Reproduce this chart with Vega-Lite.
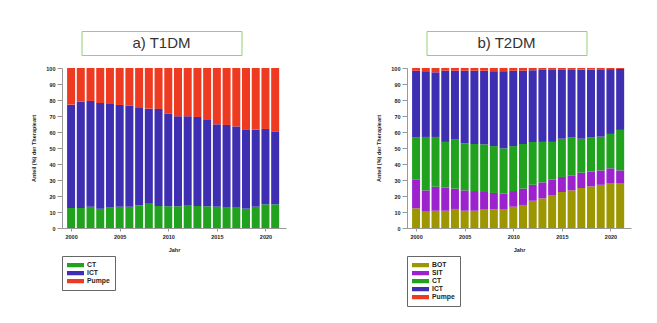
{
  "$schema": "https://vega.github.io/schema/vega-lite/v6.json",
  "background": "white",
  "padding": {"left": 31, "top": 30, "right": 5, "bottom": 5},
  "spacing": 90,
  "resolve": {"scale": {"color": "independent"}, "legend": {"color": "independent"}},
  "config": {
    "view": {"stroke": null},
    "font": "Liberation Sans",
    "axis": {
      "grid": false,
      "domainColor": "#999999",
      "tickColor": "#999999",
      "labelFont": "Liberation Sans",
      "labelFontSize": 5.5,
      "labelFontWeight": "bold",
      "labelColor": "#222222",
      "titleFont": "Liberation Sans",
      "titleFontSize": 5.5,
      "titleFontWeight": "bold",
      "titleColor": "#222222"
    },
    "axisX": {"titlePadding": 8, "labelPadding": 3, "tickSize": 3},
    "axisY": {"titlePadding": 9, "labelPadding": 2, "tickSize": 5},
    "legend": {
      "orient": "none",
      "legendX": 0,
      "legendY": 188,
      "title": null,
      "strokeColor": "#666666",
      "fillColor": "white",
      "padding": 5,
      "symbolType": "M-1,-0.25H1V0.25H-1Z",
      "symbolSize": 289,
      "symbolStrokeWidth": 0,
      "labelFont": "Liberation Sans",
      "labelFontSize": 6.8,
      "labelFontWeight": "bold",
      "labelColor": "#222222",
      "labelOffset": 3,
      "clipHeight": 8,
      "rowPadding": 0
    }
  },
  "hconcat": [
    {
      "spacing": 10,
      "center": true,
      "resolve": {"scale": {"color": "independent"}, "legend": {"color": "independent"}},
      "vconcat": [
        {
          "spacing": 10,
          "hconcat": [
            {
              "width": 160,
              "height": 24,
              "view": {"stroke": "#9ad06e", "strokeWidth": 1},
              "data": {"values": [{"label": "a) T1DM"}]},
              "mark": {"type": "text", "fontSize": 15, "font": "Liberation Sans", "color": "#333333"},
              "encoding": {"text": {"field": "label"}}
            },
            {
              "width": 14,
              "height": 24,
              "data": {"values": [{"label": ""}]},
              "mark": {"type": "text"},
              "encoding": {"text": {"field": "label"}}
            }
          ]
        },
        {
          "width": 224,
          "height": 160,
          "data": {"values": [
            {"Jahr":2000,"Therapie":"CT","Anteil":12.5},{"Jahr":2000,"Therapie":"ICT","Anteil":64.6},{"Jahr":2000,"Therapie":"Pumpe","Anteil":22.9},
            {"Jahr":2001,"Therapie":"CT","Anteil":12.5},{"Jahr":2001,"Therapie":"ICT","Anteil":66.5},{"Jahr":2001,"Therapie":"Pumpe","Anteil":21.0},
            {"Jahr":2002,"Therapie":"CT","Anteil":13.3},{"Jahr":2002,"Therapie":"ICT","Anteil":66.1},{"Jahr":2002,"Therapie":"Pumpe","Anteil":20.6},
            {"Jahr":2003,"Therapie":"CT","Anteil":12.1},{"Jahr":2003,"Therapie":"ICT","Anteil":66.0},{"Jahr":2003,"Therapie":"Pumpe","Anteil":21.9},
            {"Jahr":2004,"Therapie":"CT","Anteil":13.1},{"Jahr":2004,"Therapie":"ICT","Anteil":64.9},{"Jahr":2004,"Therapie":"Pumpe","Anteil":22.0},
            {"Jahr":2005,"Therapie":"CT","Anteil":13.3},{"Jahr":2005,"Therapie":"ICT","Anteil":63.6},{"Jahr":2005,"Therapie":"Pumpe","Anteil":23.1},
            {"Jahr":2006,"Therapie":"CT","Anteil":13.3},{"Jahr":2006,"Therapie":"ICT","Anteil":63.2},{"Jahr":2006,"Therapie":"Pumpe","Anteil":23.5},
            {"Jahr":2007,"Therapie":"CT","Anteil":14.2},{"Jahr":2007,"Therapie":"ICT","Anteil":60.8},{"Jahr":2007,"Therapie":"Pumpe","Anteil":25.0},
            {"Jahr":2008,"Therapie":"CT","Anteil":15.2},{"Jahr":2008,"Therapie":"ICT","Anteil":59.4},{"Jahr":2008,"Therapie":"Pumpe","Anteil":25.4},
            {"Jahr":2009,"Therapie":"CT","Anteil":13.8},{"Jahr":2009,"Therapie":"ICT","Anteil":60.6},{"Jahr":2009,"Therapie":"Pumpe","Anteil":25.6},
            {"Jahr":2010,"Therapie":"CT","Anteil":13.6},{"Jahr":2010,"Therapie":"ICT","Anteil":57.9},{"Jahr":2010,"Therapie":"Pumpe","Anteil":28.5},
            {"Jahr":2011,"Therapie":"CT","Anteil":13.6},{"Jahr":2011,"Therapie":"ICT","Anteil":56.2},{"Jahr":2011,"Therapie":"Pumpe","Anteil":30.2},
            {"Jahr":2012,"Therapie":"CT","Anteil":14.4},{"Jahr":2012,"Therapie":"ICT","Anteil":55.4},{"Jahr":2012,"Therapie":"Pumpe","Anteil":30.2},
            {"Jahr":2013,"Therapie":"CT","Anteil":13.8},{"Jahr":2013,"Therapie":"ICT","Anteil":55.6},{"Jahr":2013,"Therapie":"Pumpe","Anteil":30.6},
            {"Jahr":2014,"Therapie":"CT","Anteil":13.6},{"Jahr":2014,"Therapie":"ICT","Anteil":54.4},{"Jahr":2014,"Therapie":"Pumpe","Anteil":32.0},
            {"Jahr":2015,"Therapie":"CT","Anteil":13.3},{"Jahr":2015,"Therapie":"ICT","Anteil":51.5},{"Jahr":2015,"Therapie":"Pumpe","Anteil":35.2},
            {"Jahr":2016,"Therapie":"CT","Anteil":12.7},{"Jahr":2016,"Therapie":"ICT","Anteil":51.7},{"Jahr":2016,"Therapie":"Pumpe","Anteil":35.6},
            {"Jahr":2017,"Therapie":"CT","Anteil":12.7},{"Jahr":2017,"Therapie":"ICT","Anteil":50.8},{"Jahr":2017,"Therapie":"Pumpe","Anteil":36.5},
            {"Jahr":2018,"Therapie":"CT","Anteil":12.1},{"Jahr":2018,"Therapie":"ICT","Anteil":49.6},{"Jahr":2018,"Therapie":"Pumpe","Anteil":38.3},
            {"Jahr":2019,"Therapie":"CT","Anteil":13.3},{"Jahr":2019,"Therapie":"ICT","Anteil":48.2},{"Jahr":2019,"Therapie":"Pumpe","Anteil":38.5},
            {"Jahr":2020,"Therapie":"CT","Anteil":14.8},{"Jahr":2020,"Therapie":"ICT","Anteil":47.1},{"Jahr":2020,"Therapie":"Pumpe","Anteil":38.1},
            {"Jahr":2021,"Therapie":"CT","Anteil":14.8},{"Jahr":2021,"Therapie":"ICT","Anteil":45.6},{"Jahr":2021,"Therapie":"Pumpe","Anteil":39.6}
          ]},
          "transform": [
            {"lookup": "Therapie", "from": {"data": {"values": [
              {"Therapie": "CT", "Rang": 1}, {"Therapie": "ICT", "Rang": 2}, {"Therapie": "Pumpe", "Rang": 3}
            ]}, "key": "Therapie", "fields": ["Rang"]}}
          ],
          "mark": {"type": "bar", "width": 8},
          "encoding": {
            "x": {"field": "Jahr", "type": "quantitative",
              "scale": {"domain": [1999.58, 2021.6], "nice": false, "zero": false},
              "axis": {"values": [2000, 2005, 2010, 2015, 2020], "format": "d", "title": "Jahr"}},
            "y": {"field": "Anteil", "type": "quantitative", "stack": "zero",
              "scale": {"domain": [0, 100], "nice": false},
              "axis": {"values": [0,10,20,30,40,50,60,70,80,90,100], "title": "Anteil (%) der Therapieart"}},
            "color": {"field": "Therapie", "type": "nominal",
              "scale": {"domain": ["CT", "ICT", "Pumpe"], "range": ["#21a21f", "#3e2fb2", "#ef3a22"]}},
            "order": {"field": "Rang", "type": "quantitative", "sort": "ascending"}
          }
        }
      ]
    },
    {
      "spacing": 10,
      "center": true,
      "resolve": {"scale": {"color": "independent"}, "legend": {"color": "independent"}},
      "vconcat": [
        {
          "spacing": 10,
          "hconcat": [
            {
              "width": 160,
              "height": 24,
              "view": {"stroke": "#9ad06e", "strokeWidth": 1},
              "data": {"values": [{"label": "b) T2DM"}]},
              "mark": {"type": "text", "fontSize": 15, "font": "Liberation Sans", "color": "#333333"},
              "encoding": {"text": {"field": "label"}}
            },
            {
              "width": 14,
              "height": 24,
              "data": {"values": [{"label": ""}]},
              "mark": {"type": "text"},
              "encoding": {"text": {"field": "label"}}
            }
          ]
        },
        {
          "width": 224,
          "height": 160,
          "data": {"values": [
            {"Jahr":2000,"Therapie":"BOT","Anteil":12.3},{"Jahr":2000,"Therapie":"SIT","Anteil":18.1},{"Jahr":2000,"Therapie":"CT","Anteil":26.1},{"Jahr":2000,"Therapie":"ICT","Anteil":41.8},{"Jahr":2000,"Therapie":"Pumpe","Anteil":1.7},
            {"Jahr":2001,"Therapie":"BOT","Anteil":10.2},{"Jahr":2001,"Therapie":"SIT","Anteil":13.3},{"Jahr":2001,"Therapie":"CT","Anteil":33.4},{"Jahr":2001,"Therapie":"ICT","Anteil":41.1},{"Jahr":2001,"Therapie":"Pumpe","Anteil":2.0},
            {"Jahr":2002,"Therapie":"BOT","Anteil":10.8},{"Jahr":2002,"Therapie":"SIT","Anteil":15.0},{"Jahr":2002,"Therapie":"CT","Anteil":31.1},{"Jahr":2002,"Therapie":"ICT","Anteil":40.4},{"Jahr":2002,"Therapie":"Pumpe","Anteil":2.7},
            {"Jahr":2003,"Therapie":"BOT","Anteil":10.8},{"Jahr":2003,"Therapie":"SIT","Anteil":14.4},{"Jahr":2003,"Therapie":"CT","Anteil":28.6},{"Jahr":2003,"Therapie":"ICT","Anteil":44.5},{"Jahr":2003,"Therapie":"Pumpe","Anteil":1.7},
            {"Jahr":2004,"Therapie":"BOT","Anteil":11.9},{"Jahr":2004,"Therapie":"SIT","Anteil":12.7},{"Jahr":2004,"Therapie":"CT","Anteil":30.6},{"Jahr":2004,"Therapie":"ICT","Anteil":43.1},{"Jahr":2004,"Therapie":"Pumpe","Anteil":1.7},
            {"Jahr":2005,"Therapie":"BOT","Anteil":10.8},{"Jahr":2005,"Therapie":"SIT","Anteil":12.7},{"Jahr":2005,"Therapie":"CT","Anteil":29.4},{"Jahr":2005,"Therapie":"ICT","Anteil":45.4},{"Jahr":2005,"Therapie":"Pumpe","Anteil":1.7},
            {"Jahr":2006,"Therapie":"BOT","Anteil":10.8},{"Jahr":2006,"Therapie":"SIT","Anteil":12.3},{"Jahr":2006,"Therapie":"CT","Anteil":29.4},{"Jahr":2006,"Therapie":"ICT","Anteil":45.8},{"Jahr":2006,"Therapie":"Pumpe","Anteil":1.7},
            {"Jahr":2007,"Therapie":"BOT","Anteil":11.5},{"Jahr":2007,"Therapie":"SIT","Anteil":11.0},{"Jahr":2007,"Therapie":"CT","Anteil":29.8},{"Jahr":2007,"Therapie":"ICT","Anteil":46.0},{"Jahr":2007,"Therapie":"Pumpe","Anteil":1.7},
            {"Jahr":2008,"Therapie":"BOT","Anteil":11.7},{"Jahr":2008,"Therapie":"SIT","Anteil":10.2},{"Jahr":2008,"Therapie":"CT","Anteil":29.3},{"Jahr":2008,"Therapie":"ICT","Anteil":46.8},{"Jahr":2008,"Therapie":"Pumpe","Anteil":2.0},
            {"Jahr":2009,"Therapie":"BOT","Anteil":11.5},{"Jahr":2009,"Therapie":"SIT","Anteil":10.0},{"Jahr":2009,"Therapie":"CT","Anteil":28.3},{"Jahr":2009,"Therapie":"ICT","Anteil":48.2},{"Jahr":2009,"Therapie":"Pumpe","Anteil":2.0},
            {"Jahr":2010,"Therapie":"BOT","Anteil":13.3},{"Jahr":2010,"Therapie":"SIT","Anteil":9.8},{"Jahr":2010,"Therapie":"CT","Anteil":28.1},{"Jahr":2010,"Therapie":"ICT","Anteil":47.1},{"Jahr":2010,"Therapie":"Pumpe","Anteil":1.7},
            {"Jahr":2011,"Therapie":"BOT","Anteil":14.4},{"Jahr":2011,"Therapie":"SIT","Anteil":10.2},{"Jahr":2011,"Therapie":"CT","Anteil":27.9},{"Jahr":2011,"Therapie":"ICT","Anteil":45.8},{"Jahr":2011,"Therapie":"Pumpe","Anteil":1.7},
            {"Jahr":2012,"Therapie":"BOT","Anteil":17.1},{"Jahr":2012,"Therapie":"SIT","Anteil":10.0},{"Jahr":2012,"Therapie":"CT","Anteil":26.7},{"Jahr":2012,"Therapie":"ICT","Anteil":44.8},{"Jahr":2012,"Therapie":"Pumpe","Anteil":1.4},
            {"Jahr":2013,"Therapie":"BOT","Anteil":18.5},{"Jahr":2013,"Therapie":"SIT","Anteil":10.0},{"Jahr":2013,"Therapie":"CT","Anteil":25.3},{"Jahr":2013,"Therapie":"ICT","Anteil":45.0},{"Jahr":2013,"Therapie":"Pumpe","Anteil":1.2},
            {"Jahr":2014,"Therapie":"BOT","Anteil":20.6},{"Jahr":2014,"Therapie":"SIT","Anteil":9.6},{"Jahr":2014,"Therapie":"CT","Anteil":23.6},{"Jahr":2014,"Therapie":"ICT","Anteil":45.0},{"Jahr":2014,"Therapie":"Pumpe","Anteil":1.2},
            {"Jahr":2015,"Therapie":"BOT","Anteil":22.5},{"Jahr":2015,"Therapie":"SIT","Anteil":9.4},{"Jahr":2015,"Therapie":"CT","Anteil":23.9},{"Jahr":2015,"Therapie":"ICT","Anteil":43.0},{"Jahr":2015,"Therapie":"Pumpe","Anteil":1.2},
            {"Jahr":2016,"Therapie":"BOT","Anteil":23.5},{"Jahr":2016,"Therapie":"SIT","Anteil":9.4},{"Jahr":2016,"Therapie":"CT","Anteil":23.6},{"Jahr":2016,"Therapie":"ICT","Anteil":42.3},{"Jahr":2016,"Therapie":"Pumpe","Anteil":1.2},
            {"Jahr":2017,"Therapie":"BOT","Anteil":25.0},{"Jahr":2017,"Therapie":"SIT","Anteil":9.6},{"Jahr":2017,"Therapie":"CT","Anteil":21.2},{"Jahr":2017,"Therapie":"ICT","Anteil":43.2},{"Jahr":2017,"Therapie":"Pumpe","Anteil":1.0},
            {"Jahr":2018,"Therapie":"BOT","Anteil":26.0},{"Jahr":2018,"Therapie":"SIT","Anteil":9.2},{"Jahr":2018,"Therapie":"CT","Anteil":21.3},{"Jahr":2018,"Therapie":"ICT","Anteil":42.5},{"Jahr":2018,"Therapie":"Pumpe","Anteil":1.0},
            {"Jahr":2019,"Therapie":"BOT","Anteil":27.0},{"Jahr":2019,"Therapie":"SIT","Anteil":9.0},{"Jahr":2019,"Therapie":"CT","Anteil":21.1},{"Jahr":2019,"Therapie":"ICT","Anteil":42.1},{"Jahr":2019,"Therapie":"Pumpe","Anteil":0.8},
            {"Jahr":2020,"Therapie":"BOT","Anteil":28.1},{"Jahr":2020,"Therapie":"SIT","Anteil":9.2},{"Jahr":2020,"Therapie":"CT","Anteil":21.5},{"Jahr":2020,"Therapie":"ICT","Anteil":40.5},{"Jahr":2020,"Therapie":"Pumpe","Anteil":0.7},
            {"Jahr":2021,"Therapie":"BOT","Anteil":28.1},{"Jahr":2021,"Therapie":"SIT","Anteil":7.9},{"Jahr":2021,"Therapie":"CT","Anteil":25.3},{"Jahr":2021,"Therapie":"ICT","Anteil":38.1},{"Jahr":2021,"Therapie":"Pumpe","Anteil":0.6}
          ]},
          "transform": [
            {"lookup": "Therapie", "from": {"data": {"values": [
              {"Therapie": "BOT", "Rang": 1}, {"Therapie": "SIT", "Rang": 2}, {"Therapie": "CT", "Rang": 3},
              {"Therapie": "ICT", "Rang": 4}, {"Therapie": "Pumpe", "Rang": 5}
            ]}, "key": "Therapie", "fields": ["Rang"]}}
          ],
          "mark": {"type": "bar", "width": 8},
          "encoding": {
            "x": {"field": "Jahr", "type": "quantitative",
              "scale": {"domain": [1999.58, 2021.6], "nice": false, "zero": false},
              "axis": {"values": [2000, 2005, 2010, 2015, 2020], "format": "d", "title": "Jahr"}},
            "y": {"field": "Anteil", "type": "quantitative", "stack": "zero",
              "scale": {"domain": [0, 100], "nice": false},
              "axis": {"values": [0,10,20,30,40,50,60,70,80,90,100], "title": "Anteil (%) der Therapieart"}},
            "color": {"field": "Therapie", "type": "nominal",
              "scale": {"domain": ["BOT", "SIT", "CT", "ICT", "Pumpe"], "range": ["#9c9600", "#9b22cc", "#21a21f", "#3e2fb2", "#ef3a22"]}},
            "order": {"field": "Rang", "type": "quantitative", "sort": "ascending"}
          }
        }
      ]
    }
  ]
}
